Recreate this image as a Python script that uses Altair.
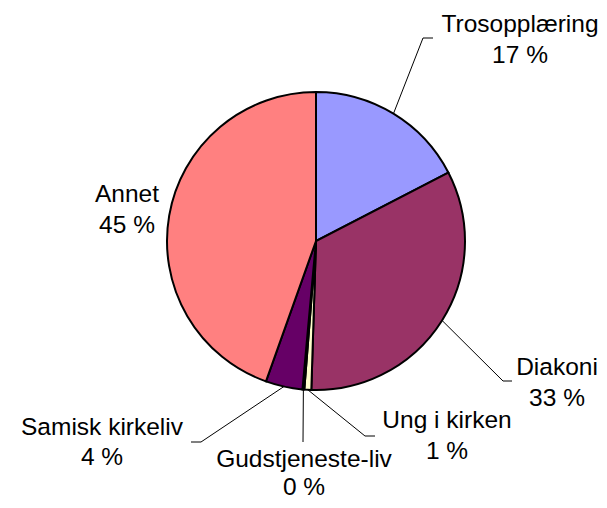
import math
import altair as alt
import pandas as pd

# ---- data ----
categories = ["Trosopplæring", "Diakoni", "Ung i kirken", "Gudstjeneste-liv", "Samisk kirkeliv", "Annet"]
values = [17.4, 33.1, 0.75, 0.2, 4.0, 44.55]
colors = ["#9999FF", "#993366", "#FFFFCC", "#CCFFFF", "#660066", "#FF8080"]

# ---- layout (pixels inside the chart) ----
CX, CY, R = 308, 233, 149
FONT = "Liberation Sans"
FS = 24.5
label_anchor = [(512, 24), (549, 367), (439, 420), (296, 459), (94, 427), (119, 194)]
label_gap = [31, 31, 31, 28, 30, 31]
leader_elbow = [(415, 30), (495, 373), (357, 428), (295, 434), (193, 434), None]
leader_end = [(425, 30), (504, 373), (367, 428), (295, 434), (183, 434), None]

total = sum(values)
pcts = [v / total * 100 for v in values]

pie_df = pd.DataFrame({"category": categories, "value": values, "idx": list(range(len(categories)))})

# labels
lab_rows = []
for i, c in enumerate(categories):
    ax, ay = label_anchor[i]
    lab_rows.append({"t": c, "lx": ax, "ly": ay})
    lab_rows.append({"t": f"{round(pcts[i])} %", "lx": ax, "ly": ay + label_gap[i]})
lab_df = pd.DataFrame(lab_rows)

# leader lines: from slice edge at its mid-angle to the label
seg_rows = []
cum = 0.0
for i, p in enumerate(pcts):
    mid = (cum + p / 2) / 100 * 2 * math.pi
    cum += p
    if leader_elbow[i] is None:
        continue
    sx = CX + R * math.sin(mid)
    sy = CY - R * math.cos(mid)
    ex, ey = leader_elbow[i]
    seg_rows.append({"x1": sx, "y1": sy, "x2": ex, "y2": ey})
    fx, fy = leader_end[i]
    if (fx, fy) != (ex, ey):
        seg_rows.append({"x1": ex, "y1": ey, "x2": fx, "y2": fy})
seg_df = pd.DataFrame(seg_rows)

pie = alt.Chart(pie_df).mark_arc(radius=R, stroke="black", strokeWidth=2).encode(
    theta=alt.Theta("value:Q", stack=True),
    color=alt.Color("category:N", scale=alt.Scale(domain=categories, range=colors), legend=None),
    order=alt.Order("idx:Q"),
    x=alt.value(CX),
    y=alt.value(CY),
)

leaders = alt.Chart(seg_df).mark_rule(color="black", strokeWidth=1).encode(
    x=alt.X("x1:Q", scale=None, axis=None),
    y=alt.Y("y1:Q", scale=None, axis=None),
    x2="x2:Q",
    y2="y2:Q",
)

labels = alt.Chart(lab_df).mark_text(
    font=FONT, fontSize=FS, align="center", baseline="alphabetic", color="black"
).encode(
    x=alt.X("lx:Q", scale=None, axis=None),
    y=alt.Y("ly:Q", scale=None, axis=None),
    text="t:N",
)

chart = alt.layer(pie, leaders, labels).properties(
    width=591, height=492, autosize=alt.AutoSizeParams(type="none"), padding=0
).configure_view(strokeWidth=0)

chart.save("out.html", embed_options={"renderer": "svg", "actions": False})
